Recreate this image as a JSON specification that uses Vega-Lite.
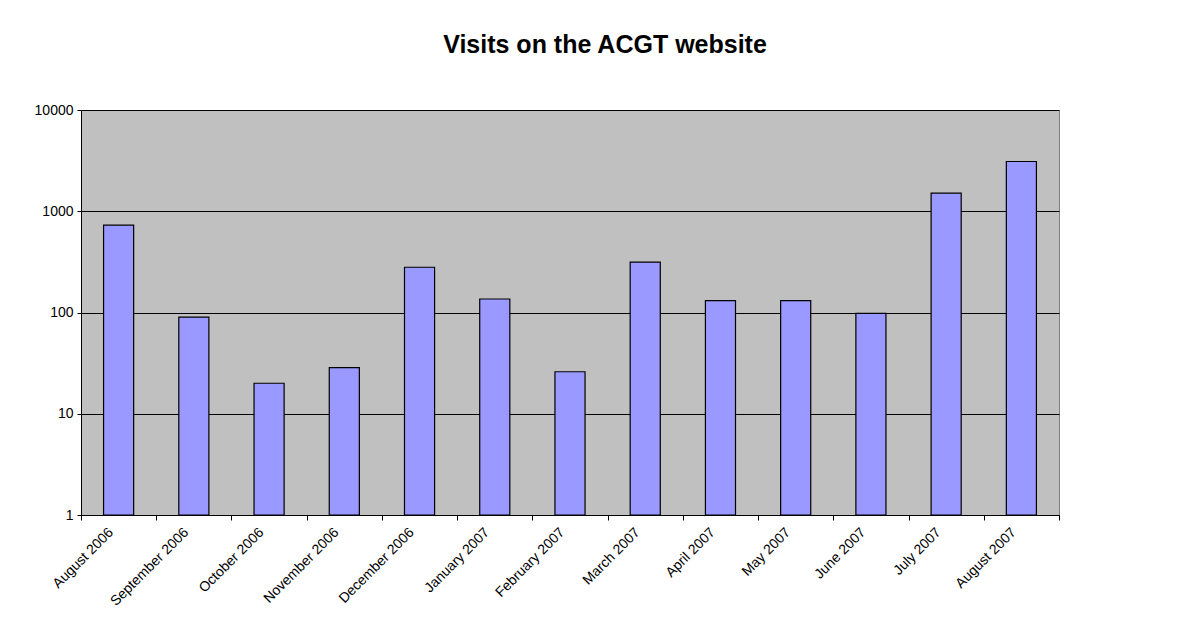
{
  "$schema": "https://vega.github.io/schema/vega-lite/v6.json",
  "width": 978,
  "height": 405,
  "padding": {"left": 34, "top": 33, "right": 10, "bottom": 5},
  "background": "white",
  "title": {
    "text": "Visits on the ACGT website",
    "font": "Liberation Sans",
    "fontSize": 25,
    "fontWeight": "bold",
    "color": "black",
    "anchor": "middle",
    "offset": 45,
    "dx": 35
  },
  "data": {
    "values": [
      {"month": "August 2006", "visits": 728},
      {"month": "September 2006", "visits": 90},
      {"month": "October 2006", "visits": 20},
      {"month": "November 2006", "visits": 28.5},
      {"month": "December 2006", "visits": 280},
      {"month": "January 2007", "visits": 136},
      {"month": "February 2007", "visits": 26},
      {"month": "March 2007", "visits": 314},
      {"month": "April 2007", "visits": 131},
      {"month": "May 2007", "visits": 131},
      {"month": "June 2007", "visits": 98},
      {"month": "July 2007", "visits": 1510},
      {"month": "August 2007", "visits": 3100}
    ]
  },
  "mark": {"type": "bar", "color": "#9999FF", "stroke": "black", "strokeWidth": 1.2, "width": {"band": 0.4}},
  "encoding": {
    "x": {
      "field": "month",
      "type": "nominal",
      "sort": null,
      "scale": {"paddingInner": 0, "paddingOuter": 0},
      "axis": {
        "title": null,
        "labelAngle": -45,
        "labelAlign": "right",
        "labelBaseline": "middle",
        "labelFont": "Liberation Sans",
        "labelFontSize": 14,
        "labelColor": "black",
        "labelPadding": 10,
        "labelOffset": -8,
        "tickBand": "extent",
        "tickSize": 5,
        "tickColor": "black",
        "domainColor": "black",
        "labelOverlap": false
      }
    },
    "y": {
      "field": "visits",
      "type": "quantitative",
      "scale": {"type": "log", "domain": [1, 10000], "nice": false},
      "axis": {
        "title": null,
        "values": [1, 10, 100, 1000, 10000],
        "format": "d",
        "labelFont": "Liberation Sans",
        "labelFontSize": 14,
        "labelColor": "black",
        "labelPadding": 4,
        "tickSize": 4,
        "tickColor": "black",
        "domainColor": "black",
        "gridColor": "black",
        "gridOpacity": 1,
        "grid": true
      }
    },
    "y2": {"datum": 1}
  },
  "config": {
    "view": {"fill": "#C0C0C0", "stroke": "#808080", "strokeWidth": 1}
  }
}
